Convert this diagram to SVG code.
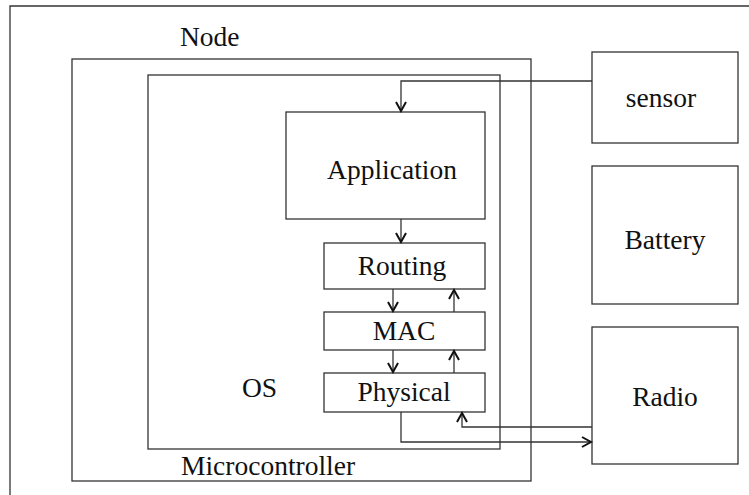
<svg xmlns="http://www.w3.org/2000/svg" width="749" height="495" viewBox="0 0 749 495">
<style>
.box{fill:none;stroke:#333;stroke-width:1.3}
.t{font-family:"Liberation Serif","Times New Roman",serif;font-size:27.5px;fill:#111}
.c{text-anchor:middle}
.ln{fill:none;stroke:#333;stroke-width:1.3}
</style>
<defs>
<marker id="ah" viewBox="0 0 12 12" refX="10" refY="6" markerWidth="12" markerHeight="12" markerUnits="userSpaceOnUse" orient="auto">
<path d="M1,1 L10,6 L1,11" fill="none" stroke="#111" stroke-width="2"/>
</marker>
</defs>
<rect width="749" height="495" fill="#fff"/>
<path class="box" d="M10,495 V6 H749"/>
<g id="node"><rect class="box" x="72" y="59" width="459" height="422"/><text class="t" x="180" y="46">Node</text></g>
<g id="microcontroller"><rect class="box" x="148" y="75" width="352" height="374"/><text class="t" x="181" y="475">Microcontroller</text></g>
<g id="os"><text class="t" x="242" y="397">OS</text></g>
<g id="application"><rect class="box" x="286" y="112" width="199" height="107"/><text class="t c" x="392" y="179">Application</text></g>
<g id="routing"><rect class="box" x="324" y="243" width="161" height="46"/><text class="t c" x="402" y="275">Routing</text></g>
<g id="mac"><rect class="box" x="324" y="312" width="161" height="38"/><text class="t c" x="404" y="340">MAC</text></g>
<g id="physical"><rect class="box" x="324" y="373" width="161" height="39"/><text class="t c" x="404" y="401">Physical</text></g>
<g id="sensor"><rect class="box" x="592" y="52" width="146" height="91"/><text class="t c" x="661" y="107">sensor</text></g>
<g id="battery"><rect class="box" x="592" y="166" width="146" height="138"/><text class="t c" x="665" y="249">Battery</text></g>
<g id="radio"><rect class="box" x="592" y="327" width="146" height="137"/><text class="t c" x="665" y="406">Radio</text></g>
<g id="connectors">
<path class="ln" d="M592,81 H401 V111" marker-end="url(#ah)"/>
<path class="ln" d="M401,219 V242" marker-end="url(#ah)"/>
<path class="ln" d="M393,289 V311" marker-end="url(#ah)"/>
<path class="ln" d="M454,312 V290" marker-end="url(#ah)"/>
<path class="ln" d="M393,350 V372" marker-end="url(#ah)"/>
<path class="ln" d="M454,373 V351" marker-end="url(#ah)"/>
<path class="ln" d="M401,412 V442 H591" marker-end="url(#ah)"/>
<path class="ln" d="M592,427 H462 V413" marker-end="url(#ah)"/>
</g>
</svg>
